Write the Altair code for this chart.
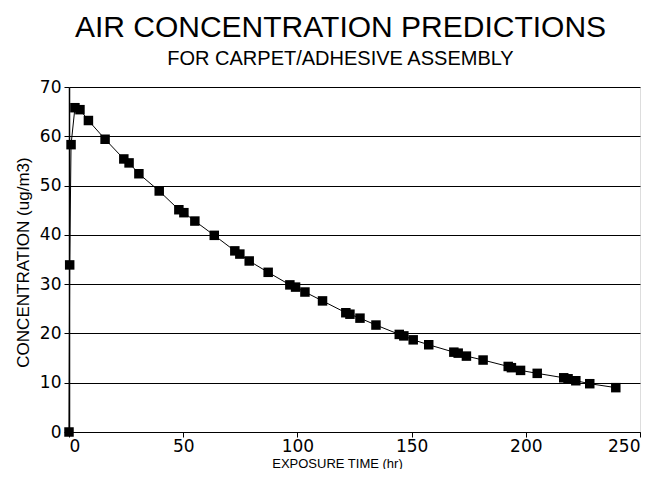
import altair as alt
import pandas as pd

# Exposure time (hr) and predicted concentration (ug/m3)
time_hr = [0, 0.3, 0.9, 2.6, 4.8, 8.5, 15.8, 24.0, 26.3, 30.6, 39.5, 48.1, 50.3, 55.1,
           63.6, 72.6, 74.8, 78.9, 87.2, 96.7, 99.2, 103.3, 111.0, 121.2, 123.0, 127.4,
           134.4, 144.6, 146.6, 150.7, 157.5, 168.5, 170.4, 174.0, 181.3, 192.3, 193.7,
           197.7, 205.0, 216.6, 218.5, 221.9, 228.0, 239.4]
conc = [0, 33.9, 58.3, 65.8, 65.4, 63.2, 59.4, 55.4, 54.6, 52.4, 48.9, 45.1, 44.5, 42.8,
        39.9, 36.75, 36.1, 34.7, 32.4, 29.85, 29.4, 28.4, 26.6, 24.2, 23.9, 23.1,
        21.7, 19.8, 19.5, 18.7, 17.7, 16.2, 16.0, 15.4, 14.6, 13.3, 13.05,
        12.5, 11.9, 11.0, 10.8, 10.4, 9.8, 9.0]

x_ticks = [0, 50, 100, 150, 200, 250]
y_ticks = [0, 10, 20, 30, 40, 50, 60, 70]

title_text = "AIR CONCENTRATION PREDICTIONS"
subtitle_text = "FOR CARPET/ADHESIVE ASSEMBLY"
x_title = "EXPOSURE TIME (hr)"
y_title = "CONCENTRATION (ug/m3)"

df = pd.DataFrame({"t": time_hr, "c": conc, "order": list(range(len(time_hr)))})

x_enc = alt.X("t:Q",
              scale=alt.Scale(domain=[0, 250], nice=False, zero=False),
              axis=alt.Axis(values=x_ticks, title=x_title, grid=False,
                            domain=True, domainColor="black", domainWidth=1,
                            tickColor="black", tickSize=5, tickWidth=1,
                            labelFont="DejaVu Sans", labelFontSize=17, labelColor="black",
                            labelPadding=1,
                            titleFont="Liberation Sans", titleFontSize=13,
                            titleFontWeight="normal", titleColor="black",
                            titleX=268, titleY=35, titleAlign="center",
                            titleBaseline="alphabetic"))
y_enc = alt.Y("c:Q",
              scale=alt.Scale(domain=[0, 70], nice=False, zero=False),
              axis=alt.Axis(values=y_ticks, title=y_title, grid=True,
                            gridColor="black", gridWidth=1, gridOpacity=1,
                            domain=True, domainColor="black", domainWidth=1.5,
                            tickColor="black", tickSize=5, tickWidth=1,
                            labelFont="DejaVu Sans", labelFontSize=17, labelColor="black",
                            labelPadding=3,
                            titleFont="Liberation Sans", titleFontSize=17,
                            titleFontWeight="normal", titleColor="black",
                            titleAngle=270, titleX=-41, titleY=175, titleAlign="center",
                            titleBaseline="alphabetic"))

line = alt.Chart(df).mark_line(color="black", strokeWidth=1, clip=False).encode(
    x=x_enc, y=y_enc, order="order:Q")
pts = alt.Chart(df).mark_square(color="black", size=90, opacity=1, clip=False).encode(
    x=alt.X("t:Q"), y=alt.Y("c:Q"))

chart = alt.layer(line, pts).properties(
    width=571, height=345,
    padding={"left": 61, "top": 79, "right": 18, "bottom": 37},
    autosize=alt.AutoSizeParams(type="none"),
    title=alt.TitleParams(text=title_text, subtitle=subtitle_text,
                          anchor="middle", frame="group", dx=-14,
                          font="Liberation Sans", fontSize=30, fontWeight="normal",
                          color="black",
                          subtitleFont="Liberation Sans", subtitleFontSize=20,
                          subtitleColor="black", subtitlePadding=6, offset=9),
).configure_view(stroke="black", strokeWidth=1).configure(background="white")

chart.save("out.html", embed_options={"renderer": "svg", "actions": False})
